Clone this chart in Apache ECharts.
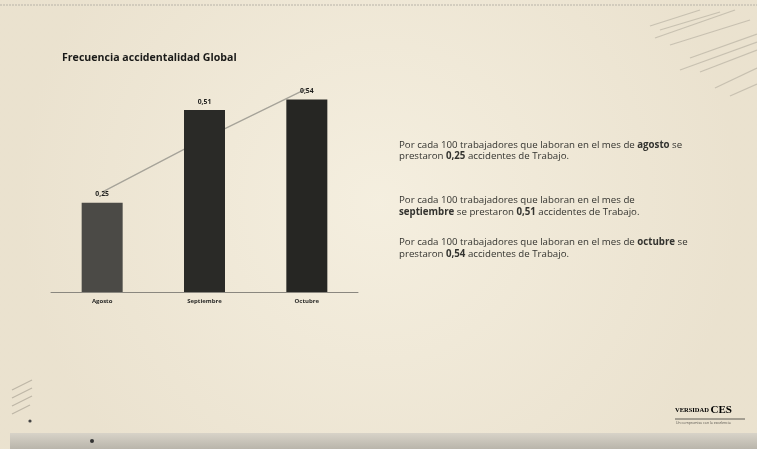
<!DOCTYPE html>
<html>
<head>
<meta charset="utf-8">
<script src="https://cdn.jsdelivr.net/npm/echarts@6/dist/echarts.min.js"></script>
<style>
html,body{margin:0;padding:0;background:#f1ead8;}
#c{width:757px;height:449px;}
</style>
</head>
<body>
<div id="c"></div>
<script>
const categories = ['Agosto', 'Septiembre', 'Octubre'];
const values = [0.25, 0.51, 0.54];
const trendValues = [0.28, 0.43, 0.57];
const valueLabels = ['0,25', '0,51', '0,54'];
const barColors = ['#4b4a46', '#2a2a27', '#262623'];

const chart = echarts.init(document.getElementById('c'), null, {renderer: 'canvas'});

const F = '"Open Sans", "Liberation Sans", sans-serif';
const FS = 9.7;
const txtStyle = {
  n: {fontFamily: F, fontSize: FS, color: '#33332f'},
  b: {fontFamily: F, fontSize: FS, fontWeight: 'bold', color: '#1a1a18'}
};
function line(x, y, rich) {
  return {type: 'text', left: x, top: y, silent: true,
    style: {text: rich, rich: txtStyle, fill: '#33332f', font: FS + 'px ' + F}};
}

const stripes = [];
const strokeDefs = [
  [660,30,720,12],[655,38,735,10],[670,45,750,20],[690,58,757,34],[700,72,757,50],
  [715,88,757,68],[680,70,757,42],[730,96,757,84],[650,26,700,10]
];
strokeDefs.forEach(s => stripes.push({type:'line', silent:true,
  shape:{x1:s[0],y1:s[1],x2:s[2],y2:s[3]}, style:{stroke:'rgba(120,115,105,0.3)', lineWidth:1.2}}));
[[12,390,32,380],[12,398,32,388],[12,406,32,396],[12,414,30,405]].forEach(s => stripes.push({type:'line', silent:true,
  shape:{x1:s[0],y1:s[1],x2:s[2],y2:s[3]}, style:{stroke:'rgba(120,115,105,0.4)', lineWidth:1.2}}));

chart.setOption({
  backgroundColor: '#f1ead8',
  animation: false,
  title: {
    text: 'Frecuencia accidentalidad Global',
    left: 57, top: 47,
    textStyle: {fontFamily: F, fontSize: 10.6, fontWeight: 'bold', color: '#1a1a18'}
  },
  grid: {left: 51, top: 78, width: 307, height: 214},
  xAxis: {
    type: 'category',
    data: categories,
    axisLine: {lineStyle: {color: '#8a877f', width: 1}},
    axisTick: {show: false},
    axisLabel: {fontFamily: F, fontSize: 6, fontWeight: 'bold', color: '#2a2a28', margin: 6}
  },
  yAxis: {
    type: 'value', min: 0, max: 0.6,
    show: false, splitLine: {show: false}
  },
  series: [
    {
      type: 'bar',
      data: values.map((v, i) => ({value: v, itemStyle: {color: barColors[i]}})),
      barWidth: 41,
      label: {
        show: true, position: 'top', distance: 5,
        formatter: p => valueLabels[p.dataIndex],
        fontFamily: F, fontSize: 6.8, fontWeight: 'bold', color: '#1e1e1c'
      },
      z: 3
    },
    {
      type: 'line',
      data: trendValues,
      symbol: 'none',
      lineStyle: {color: '#a6a399', width: 1.3},
      z: 2
    }
  ],
  graphic: [
    {type: 'rect', silent: true, shape: {x: 0, y: 0, width: 757, height: 449},
      style: {fill: {type: 'radial', x: 0.5, y: 0.45, r: 0.8,
        colorStops: [{offset: 0, color: 'rgba(248,243,230,0.5)'}, {offset: 1, color: 'rgba(228,218,198,0.5)'}]}}, z: -10},
    {type: 'line', silent: true, shape: {x1: 0, y1: 5, x2: 757, y2: 5},
      style: {stroke: '#b8b3a8', lineWidth: 1, lineDash: [2, 1]}},
    {type: 'rect', silent: true, shape: {x: 10, y: 433, width: 747, height: 16},
      style: {fill: {type: 'linear', x: 0, y: 0, x2: 0, y2: 1,
        colorStops: [{offset: 0, color: '#d8d3c8'}, {offset: 1, color: '#b9b5ab'}]}}},
    {type: 'circle', silent: true, shape: {cx: 92, cy: 441, r: 2}, style: {fill: '#333'}},
    {type: 'circle', silent: true, shape: {cx: 30, cy: 421, r: 1.6}, style: {fill: '#444'}},
    ...stripes,
    line(399, 140, '{n|Por cada 100 trabajadores que laboran en el mes de }{b|agosto}{n| se}'),
    line(399, 151, '{n|prestaron }{b|0,25}{n| accidentes de Trabajo.}'),
    line(399, 195, '{n|Por cada 100 trabajadores que laboran en el mes de}'),
    line(399, 207, '{b|septiembre}{n| se prestaron }{b|0,51}{n| accidentes de Trabajo.}'),
    line(399, 237, '{n|Por cada 100 trabajadores que laboran en el mes de }{b|octubre}{n| se}'),
    line(399, 249, '{n|prestaron }{b|0,54}{n| accidentes de Trabajo.}'),
    {type: 'text', left: 675, top: 405, silent: true,
      style: {text: '{a|VERSIDAD }{c|CES}', rich: {
        a: {fontFamily: '"Liberation Serif", serif', fontSize: 6.5, fontWeight: 'bold', color: '#2a2a28'},
        c: {fontFamily: '"Liberation Serif", serif', fontSize: 11, fontWeight: 'bold', color: '#2a2a28'}
      }}},
    {type: 'line', silent: true, shape: {x1: 675, y1: 419, x2: 745, y2: 419},
      style: {stroke: '#3a3a36', lineWidth: 0.8}},
    {type: 'text', left: 676, top: 421, silent: true,
      style: {text: 'Un compromiso con la excelencia', fill: '#55524c', font: '3.5px ' + F}}
  ]
});
</script>
</body>
</html>
